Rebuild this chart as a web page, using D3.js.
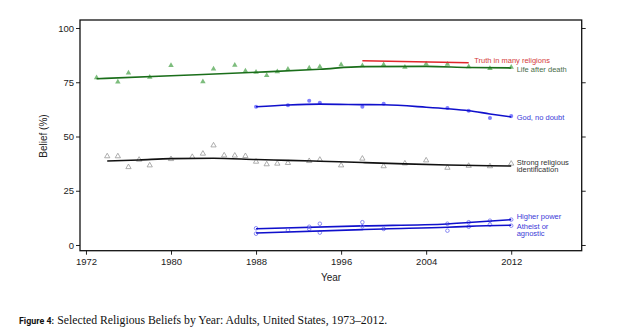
<!DOCTYPE html>
<html>
<head>
<meta charset="utf-8">
<script src="https://cdn.jsdelivr.net/npm/d3@7"></script>
<style>
  body { margin: 0; background: #fff; }
  svg { display: block; }
</style>
</head>
<body>
<div id="graf"></div>
<script>
// datos
anios_vida = [1973,1975,1976,1978,1980,1983,1984,1986,1987,1988,1989,1990,1991,1993,1994,1996,1998,2000,2002,2004,2006,2008,2010,2012]
vida = [77.1,75.1,79.3,77.3,82.8,75.3,81.2,82.9,80.2,79.7,78.2,79.9,81.0,81.6,82.2,83.1,82.6,83.1,81.9,83.4,83.3,82.2,81.4,82.0]
ajuste_vida_anios = [1973,1980,1988,1994,1998,2004,2008,2012]
ajuste_vida = [76.6,78.0,79.6,81.0,82.2,82.3,81.8,81.6]

anios_verdad = [1998,2008]
verdad = [84.9,84.0]

anios_dios = [1988,1991,1993,1994,1998,2000,2006,2008,2010,2012]
dios = [63.7,64.4,66.5,65.5,63.7,65.1,63.1,61.9,58.5,59.4]
ajuste_dios_anios = [1988,1991,1994,1998,2000,2004,2006,2008,2010,2012]
ajuste_dios = [63.7,64.5,64.9,64.7,64.6,63.5,62.8,61.9,60.4,59.0]

anios_ident = [1974,1975,1976,1977,1978,1980,1982,1983,1984,1985,1986,1987,1988,1989,1990,1991,1993,1994,1996,1998,2000,2002,2004,2006,2008,2010,2012]
ident = [40.9,40.9,35.9,39.3,36.7,39.6,40.6,42.1,45.9,41.3,41.2,41.0,38.4,37.2,37.5,37.8,38.7,39.3,36.7,39.8,36.3,37.6,39.0,35.6,36.5,36.3,37.5]
ajuste_ident_anios = [1974,1977,1980,1984,1988,1991,1994,1998,2002,2006,2010,2012]
ajuste_ident = [38.7,39.2,39.8,40.0,39.4,39.0,38.6,38.0,37.4,36.9,36.5,36.4]

anios_poder = [1988,1993,1994,1998,2006,2008,2010,2012]
poder = [7.7,8.4,9.8,10.5,9.8,10.5,11.2,11.7]
ajuste_poder_anios = [1988,1998,2006,2008,2012]
ajuste_poder = [7.5,8.8,9.7,10.4,11.7]

anios_ateo = [1988,1991,1993,1994,1998,2000,2006,2008,2010,2012]
ateo = [5.2,6.8,7.4,5.7,8.6,7.4,6.6,8.4,9.4,8.9]
ajuste_ateo_anios = [1988,1998,2000,2006,2008,2012]
ajuste_ateo = [5.5,7.1,7.4,8.2,8.6,9.1]

ticks_x = [1972,1980,1988,1996,2004,2012]
ticks_y = [0,25,50,75,100]

// I. Configuracion
ancho_total = 632
alto_total = 336

svg = d3.select('#graf').append('svg')
        .attr('width', ancho_total)
        .attr('height', alto_total)
        .style('font-family', '"Liberation Sans", Arial, sans-serif')

marco = { left: 80, top: 20, right: 581.7, bottom: 250.7 }

x = d3.scaleLinear()
      .domain([1971.44, 2018.63])
      .range([marco.left, marco.right])
y = d3.scaleLinear()
      .domain([-2.63, 103.69])
      .range([marco.bottom, marco.top])

// ejes
ejeY = svg.append('g')
          .attr('transform', `translate(${marco.left}, 0)`)
          .call(d3.axisLeft(y).tickValues(ticks_y).tickSize(4).tickPadding(2))
ejeYder = svg.append('g')
          .attr('transform', `translate(${marco.right}, 0)`)
          .call(d3.axisRight(y).tickValues(ticks_y).tickSize(4).tickFormat(''))
ejeX = svg.append('g')
          .attr('transform', `translate(0, ${marco.bottom})`)
          .call(d3.axisBottom(x).tickValues(ticks_x).tickSize(4).tickFormat(d3.format('d')).tickPadding(4))

svg.selectAll('.domain').remove()
svg.selectAll('.tick line').attr('stroke', '#222').attr('stroke-width', 1)
svg.selectAll('.tick text').attr('fill', '#222').style('font-size', '9.5px')
ejeY.selectAll('.tick text').attr('dy', '0.34em')

svg.append('rect')
   .attr('x', marco.left)
   .attr('y', marco.top)
   .attr('width', marco.right - marco.left)
   .attr('height', marco.bottom - marco.top)
   .attr('fill', 'none')
   .attr('stroke', '#111')
   .attr('stroke-width', 1.3)

svg.append('text')
   .attr('x', 331).attr('y', 281)
   .attr('text-anchor', 'middle')
   .style('font-size', '10px')
   .attr('fill', '#222')
   .text('Year')

svg.append('text')
   .attr('transform', 'translate(47, 136) rotate(-90)')
   .attr('text-anchor', 'middle')
   .style('font-size', '10px')
   .attr('fill', '#222')
   .text('Belief (%)')

// marcas y lineas
linea = d3.line()
          .x(d => x(d[0]))
          .y(d => y(d[1]))
          .curve(d3.curveMonotoneX)

function dibujaLinea(anios, valores, color, grosor) {
  svg.append('path')
     .datum(anios.map((a, i) => [a, valores[i]]))
     .attr('d', linea)
     .attr('fill', 'none')
     .attr('stroke', color)
     .attr('stroke-width', grosor)
}

function dibujaPuntos(anios, valores, tipo, tam, relleno, borde) {
  svg.append('g').selectAll('path')
     .data(anios.map((a, i) => [a, valores[i]]))
     .enter()
     .append('path')
       .attr('transform', d => `translate(${x(d[0])}, ${y(d[1])})`)
       .attr('d', d3.symbol().type(tipo).size(tam))
       .attr('fill', relleno)
       .attr('stroke', borde)
       .attr('stroke-width', 0.8)
}

dibujaPuntos(anios_vida, vida, d3.symbolTriangle, 13, '#7dbd7d', 'none')
dibujaLinea(ajuste_vida_anios, ajuste_vida, '#1a6e1a', 1.6)

dibujaLinea(anios_verdad, verdad, '#e0262b', 1.6)

dibujaPuntos(anios_dios, dios, d3.symbolCircle, 13, '#7f7fff', 'none')
dibujaLinea(ajuste_dios_anios, ajuste_dios, '#1010cc', 1.6)

dibujaPuntos(anios_ident, ident, d3.symbolTriangle, 12, 'none', '#999')
dibujaLinea(ajuste_ident_anios, ajuste_ident, '#111', 1.6)

dibujaPuntos(anios_poder, poder, d3.symbolCircle, 10, 'none', '#7070f0')
dibujaLinea(ajuste_poder_anios, ajuste_poder, '#1010cc', 1.6)
dibujaPuntos(anios_ateo, ateo, d3.symbolCircle, 10, 'none', '#7070f0')
dibujaLinea(ajuste_ateo_anios, ajuste_ateo, '#1010cc', 1.6)

// etiquetas de series
etiquetas = [
  { t: ['Truth in many religions'], x: 474.3, y: 62.5, c: '#d43a3a' },
  { t: ['Life after death'], x: 516.7, y: 72.2, c: '#4a6e4a' },
  { t: ['God, no doubt'], x: 516.7, y: 120.2, c: '#3a3ad8' },
  { t: ['Strong religious', 'identification'], x: 516.7, y: 164.5, c: '#333' },
  { t: ['Higher power'], x: 516.7, y: 218.5, c: '#3a3ad8' },
  { t: ['Atheist or', 'agnostic'], x: 516.7, y: 228.5, c: '#3a3ad8' }
]

etiquetas.forEach(e => {
  txt = svg.append('text')
           .attr('x', e.x).attr('y', e.y)
           .attr('fill', e.c)
           .style('font-size', '7.5px')
  e.t.forEach((l, i) => {
    txt.append('tspan').attr('x', e.x).attr('dy', i == 0 ? 0 : 7.7).text(l)
  })
})

// pie de figura
svg.append('text')
   .attr('x', 19).attr('y', 323.5)
   .attr('fill', '#111')
   .attr('textLength', 35)
   .attr('lengthAdjust', 'spacingAndGlyphs')
   .style('font-family', 'Roboto, "DejaVu Sans", sans-serif')
   .style('font-weight', 'bold')
   .style('font-size', '9.5px')
   .text('Figure 4:')
svg.append('text')
   .attr('x', 57.3).attr('y', 323.5)
   .attr('fill', '#111')
   .attr('textLength', 330)
   .attr('lengthAdjust', 'spacingAndGlyphs')
   .style('font-family', '"Liberation Serif", "Times New Roman", serif')
   .style('font-size', '11.7px')
   .text('Selected Religious Beliefs by Year: Adults, United States, 1973–2012.')
</script>
</body>
</html>
